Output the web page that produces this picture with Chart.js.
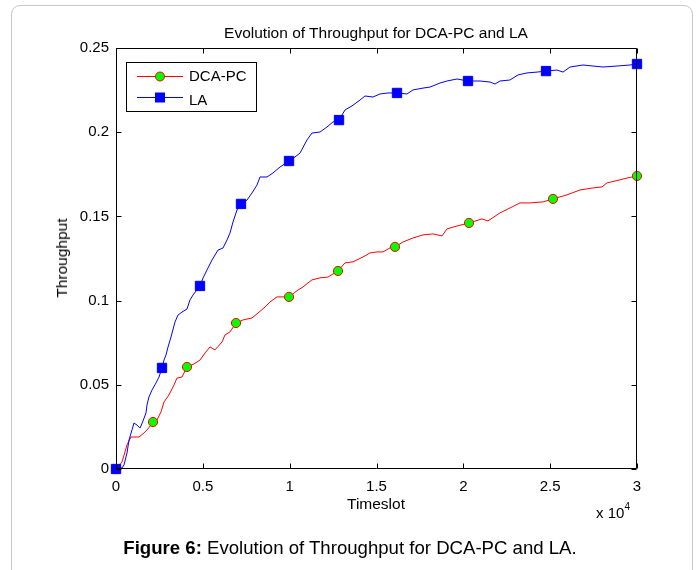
<!DOCTYPE html>
<html><head><meta charset="utf-8">
<script src="https://cdn.jsdelivr.net/npm/chart.js@4.4.0/dist/chart.umd.min.js"></script>
<style>
html,body{margin:0;padding:0;background:#fff;overflow:hidden;width:696px;height:570px;font-family:"Liberation Sans",Arial,sans-serif;}
#wrap{position:relative;width:696px;height:570px;overflow:hidden;}
#frame{position:absolute;left:11px;top:5px;width:680px;height:640px;border:1px solid #c8c8c8;border-radius:9px;}
canvas{position:absolute;left:0;top:0;}
.t{position:absolute;white-space:nowrap;color:#000;transform:translate(-50%,-50%);}
</style></head>
<body>
<div id="wrap">
<div id="frame"></div>
<canvas id="c" width="696" height="570"></canvas>
<div class="t" style="left:376px;top:33px;font-size:15.5px;">Evolution of Throughput for DCA-PC and LA</div>
<div class="t" style="left:376px;top:504px;font-size:15.5px;">Timeslot</div>
<div class="t" style="left:62px;top:258px;font-size:15.5px;transform:translate(-50%,-50%) rotate(-90deg);">Throughput</div>
<div class="t" style="left:613px;top:512px;font-size:15px;">x 10<sup style="font-size:10px;position:relative;top:-2px;">4</sup></div>
<div class="t" style="left:350px;top:548px;font-size:18.6px;"><b>Figure 6:</b> Evolution of Throughput for DCA-PC and LA.</div>
</div>
<script>
// DCA-PC (red line)
const dcaX = [0,173,345,518,633,864,1036,1324,1612,1785,2130,2361,2591,2764,3052,3340,3512,3800,4088,4491,4837,5125,5413,5700,6104,6276,6564,6910,7313,7831,8177,8580,8868,9271,9616,9962,10480,10768,11056,11286,11747,12207,12783,13186,13647,14223,14626,15029,15374,15777,16065,16526,17102,17678,18253,18772,19060,19635,20326,21075,21420,22111,22687,23263,23839,24587,25163,25969,26718,27466,27984,28272,29021,29482,30000];
const dcaY = [0,0.0018,0.0042,0.0101,0.0143,0.0190,0.0190,0.0190,0.0214,0.0232,0.0275,0.0291,0.0339,0.0398,0.0440,0.0499,0.0540,0.0546,0.0606,0.0624,0.0647,0.0689,0.0725,0.0707,0.0754,0.0796,0.0814,0.0867,0.0885,0.0897,0.0926,0.0962,0.0992,0.1022,0.1022,0.1022,0.1063,0.1081,0.1105,0.1123,0.1135,0.1140,0.1176,0.1224,0.1230,0.1259,0.1283,0.1289,0.1289,0.1313,0.1319,0.1348,0.1372,0.1390,0.1396,0.1384,0.1426,0.1443,0.1461,0.1485,0.1473,0.1521,0.1550,0.1580,0.1580,0.1586,0.1604,0.1628,0.1657,0.1669,0.1675,0.1699,0.1717,0.1729,0.1740];
// LA (blue line)
const laX = [0,345,461,633,749,921,1036,1209,1382,1555,1727,1785,1900,2073,2303,2476,2649,2764,2879,2994,3167,3397,3570,3800,4088,4261,4434,4837,5010,5240,5528,5873,6161,6392,6564,6737,6967,7198,7543,7831,8119,8292,8695,9040,9443,9962,10307,10595,10998,11286,11747,12150,12495,12841,13186,13589,14050,14338,14799,15202,15662,16180,16756,17102,17678,18081,18657,19060,19635,20269,20960,21536,21823,22111,22687,23148,23666,24242,24760,25393,25739,26142,26891,27466,28042,28848,29597,30000];
const laY = [0,0.0006,0.0024,0.0095,0.0172,0.0232,0.0273,0.0261,0.0243,0.0285,0.0333,0.0380,0.0428,0.0469,0.0511,0.0546,0.0600,0.0647,0.0677,0.0724,0.0784,0.0873,0.0914,0.0932,0.0950,0.1004,0.1033,0.1087,0.1134,0.1182,0.1241,0.1300,0.1312,0.1360,0.1401,0.1467,0.1538,0.1574,0.1597,0.1639,0.1686,0.1734,0.1734,0.1758,0.1793,0.1829,0.1853,0.1876,0.1954,0.1995,0.2001,0.2031,0.2061,0.2072,0.2132,0.2156,0.2191,0.2215,0.2209,0.2227,0.2233,0.2233,0.2227,0.2251,0.2262,0.2268,0.2292,0.2304,0.2316,0.2304,0.2304,0.2298,0.2286,0.2304,0.2310,0.2340,0.2352,0.2357,0.2363,0.2369,0.2357,0.2387,0.2399,0.2393,0.2387,0.2393,0.2399,0.2405];
// marker positions
const dcaMarkX = [0,2130,4088,6910,9962,12783,16065,20326,25163,30000];
const dcaMarkY = [0,0.0279,0.0606,0.0867,0.1022,0.1176,0.1319,0.1461,0.1604,0.1740];
const laMarkX = [0,2649,4837,7198,9962,12841,16180,20269,24760,30000];
const laMarkY = [0,0.0600,0.1087,0.1574,0.1829,0.2072,0.2233,0.2304,0.2363,0.2405];
const seriesNames = ['DCA-PC','LA'];
const xTicks = [0,5000,10000,15000,20000,25000,30000];
const yTicks = [0,0.05,0.1,0.15,0.2,0.25];

const zip = (xs, ys) => xs.map((x, i) => ({x: x, y: ys[i]}));
const FONT = '"Liberation Sans", Arial, sans-serif';

const boxPlugin = {
  id: 'matlabBox',
  afterDraw(chart) {
    const ctx = chart.ctx, a = chart.chartArea;
    const xs = chart.scales.x, ys = chart.scales.y;
    ctx.save();
    ctx.strokeStyle = '#000';
    ctx.lineWidth = 1;
    const L = Math.round(a.left) + 0.5, R = Math.round(a.right) - 0.5, T = Math.round(a.top) + 0.5, B = Math.round(a.bottom) - 0.5;
    ctx.beginPath();
    ctx.rect(L, T, R - L, B - T);
    ctx.stroke();
    const tl = 5;
    ctx.beginPath();
    xTicks.forEach(v => {
      const px = Math.round(xs.getPixelForValue(v)) + 0.5;
      ctx.moveTo(px, B); ctx.lineTo(px, B - tl);
      ctx.moveTo(px, T); ctx.lineTo(px, T + tl);
    });
    yTicks.forEach(v => {
      const py = Math.round(ys.getPixelForValue(v)) + 0.5;
      ctx.moveTo(L, py); ctx.lineTo(L + tl, py);
      ctx.moveTo(R, py); ctx.lineTo(R - tl, py);
    });
    ctx.stroke();
    // legend
    const lx = 126.5, ly = 62.5, lw = 130, lh = 49;
    ctx.fillStyle = '#fff';
    ctx.fillRect(lx, ly, lw, lh);
    ctx.strokeStyle = '#000';
    ctx.strokeRect(lx, ly, lw, lh);
    // row 1
    ctx.strokeStyle = '#ff0000';
    ctx.beginPath(); ctx.moveTo(137, 76.5); ctx.lineTo(183, 76.5); ctx.stroke();
    ctx.beginPath(); ctx.arc(160, 76.5, 4.5, 0, Math.PI * 2);
    ctx.fillStyle = '#00ff00'; ctx.fill(); ctx.strokeStyle = '#ff0000'; ctx.stroke();
    // row 2
    ctx.strokeStyle = '#0000ff';
    ctx.beginPath(); ctx.moveTo(137, 97.5); ctx.lineTo(183, 97.5); ctx.stroke();
    ctx.fillStyle = '#0000ff';
    ctx.fillRect(155, 92.5, 10, 10);
    ctx.fillStyle = '#000';
    ctx.font = '15px ' + FONT;
    ctx.textBaseline = 'middle';
    ctx.textAlign = 'left';
    ctx.fillText(seriesNames[0], 189, 77);
    ctx.fillText(seriesNames[1], 189, 101);
    ctx.restore();
  }
};

new Chart(document.getElementById('c'), {
  type: 'scatter',
  data: {
    datasets: [
      {label: seriesNames[1] + ' markers', data: zip(laMarkX, laMarkY), showLine: false,
       pointStyle: 'rect', pointRadius: 6.6, backgroundColor: '#0000ff', borderColor: '#0000ff', borderWidth: 1, clip: false},
      {label: seriesNames[1], data: zip(laX, laY), showLine: true, pointRadius: 0,
       borderColor: '#0000ff', borderWidth: 1, tension: 0, fill: false},
      {label: seriesNames[0] + ' markers', data: zip(dcaMarkX, dcaMarkY), showLine: false,
       pointStyle: 'circle', pointRadius: 4.6, backgroundColor: '#00ff00', borderColor: '#ff0000', borderWidth: 1, clip: false},
      {label: seriesNames[0], data: zip(dcaX, dcaY), showLine: true, pointRadius: 0,
       borderColor: '#ff0000', borderWidth: 1, tension: 0, fill: false}
    ]
  },
  options: {
    responsive: false,
    animation: false,
    devicePixelRatio: 1,
    layout: {padding: {left: 0, right: 59, top: 48, bottom: 71}},
    plugins: {legend: {display: false}, tooltip: {enabled: false}, title: {display: false}},
    scales: {
      x: {
        type: 'linear', min: 0, max: 30000,
        afterFit: s => { s.height = 30; },
        afterBuildTicks: s => { s.ticks = xTicks.map(v => ({value: v})); },
        grid: {display: false, drawTicks: false},
        border: {display: false},
        ticks: {color: '#000', font: {family: FONT, size: 15}, padding: 9, maxRotation: 0, autoSkip: false,
                callback: v => String(v / 10000)}
      },
      y: {
        type: 'linear', min: 0, max: 0.25,
        afterFit: s => { s.width = 116; },
        afterBuildTicks: s => { s.ticks = yTicks.map(v => ({value: v})); },
        grid: {display: false, drawTicks: false},
        border: {display: false},
        ticks: {color: '#000', font: {family: FONT, size: 15}, padding: 7,
                callback: v => String(Number(v.toFixed(2)))}
      }
    }
  },
  plugins: [boxPlugin]
});
</script>
</body></html>
